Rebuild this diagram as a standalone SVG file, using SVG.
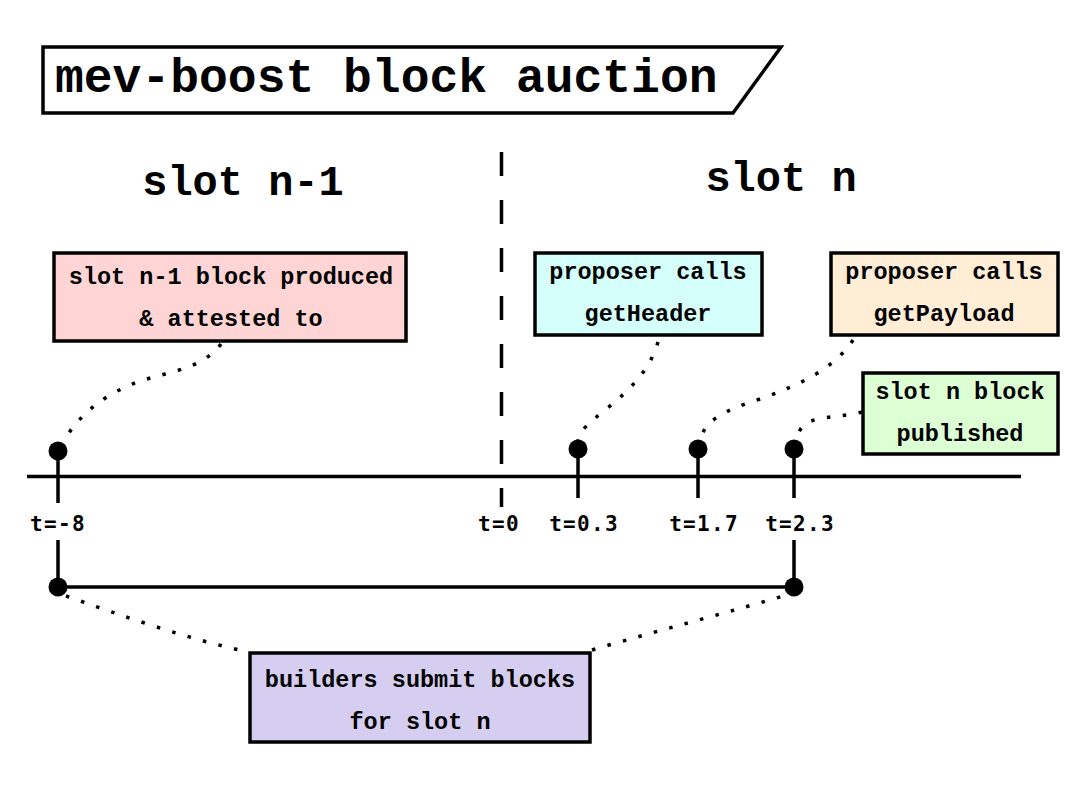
<svg xmlns="http://www.w3.org/2000/svg" width="1082" height="786" viewBox="0 0 1082 786">
<style>
.box{stroke:#000;stroke-width:3.5}
.bt{font-family:"Liberation Mono","Courier New",monospace;font-weight:bold;font-size:23.5px;text-anchor:middle;fill:#000}
.hd{font-family:"Liberation Mono","Courier New",monospace;font-weight:bold;font-size:42px;text-anchor:middle;fill:#000}
.tl{font-family:"DejaVu Sans Mono",monospace;font-weight:bold;font-size:21px;letter-spacing:1.3px;text-anchor:middle;fill:#000}
.ln{stroke:#000;stroke-width:3.5;fill:none}
.dot{stroke:#000;stroke-width:3.5;stroke-dasharray:3.5 12.5;fill:none}
</style>
<rect width="1082" height="786" fill="#fff"/>
<g id="title">
<polygon points="43,47 781,47 733,113 43,113" fill="#fff" stroke="#000" stroke-width="3.5"/>
<text x="55" y="92" font-family="Liberation Mono,'Courier New',monospace" font-weight="bold" font-size="48" fill="#000">mev-boost block auction</text>
</g>
<g id="headers">
<text class="hd" x="243" y="195">slot n-1</text>
<text class="hd" x="781" y="191">slot n</text>
</g>
<g id="connectors">
<line x1="501.5" y1="152" x2="501.5" y2="507" stroke="#000" stroke-width="3.5" stroke-dasharray="24 24"/>
<line class="ln" x1="27" y1="476.5" x2="1021" y2="476.5"/>
<line class="ln" x1="58" y1="450" x2="58" y2="503"/>
<line class="ln" x1="58" y1="540" x2="58" y2="587"/>
<line class="ln" x1="578" y1="449" x2="578" y2="498"/>
<line class="ln" x1="698" y1="449" x2="698" y2="498"/>
<line class="ln" x1="794" y1="449" x2="794" y2="498"/>
<line class="ln" x1="794" y1="540" x2="794" y2="587"/>
<line class="ln" x1="58" y1="587" x2="794" y2="587"/>
<circle cx="58" cy="451" r="9.5"/>
<circle cx="578" cy="449" r="9.5"/>
<circle cx="698" cy="449" r="9.5"/>
<circle cx="794" cy="449" r="9.5"/>
<circle cx="58" cy="587" r="9.5"/>
<circle cx="794" cy="587" r="9.5"/>
<path class="dot" d="M221,344 C200,372 160,372 130,385 C100,398 80,415 64,440"/>
<path class="dot" d="M658,342 C650,370 630,390 605,410 C590,422 580,430 578,440"/>
<path class="dot" d="M853,340 C835,368 800,385 760,399 C725,410 705,420 700,440"/>
<path class="dot" d="M862,412 C830,420 800,413 797,440"/>
<path class="dot" d="M66,596 C120,615 190,640 249,652"/>
<path class="dot" d="M592,650 C660,630 730,612 790,594"/>
</g>
<g id="labels">
<text class="tl" x="58" y="531">t=-8</text>
<text class="tl" x="499" y="531">t=0</text>
<text class="tl" x="584" y="531">t=0.3</text>
<text class="tl" x="704" y="531">t=1.7</text>
<text class="tl" x="800" y="531">t=2.3</text>
</g>
<g id="node-prev">
<rect class="box" x="54" y="253" width="352" height="88" fill="#ffd4d4"/>
<text class="bt" x="231" y="284">slot n-1 block produced</text>
<text class="bt" x="231" y="326">&amp; attested to</text>
</g>
<g id="node-getheader">
<rect class="box" x="535" y="253" width="227" height="82" fill="#d4fffa"/>
<text class="bt" x="648" y="279">proposer calls</text>
<text class="bt" x="648" y="321">getHeader</text>
</g>
<g id="node-getpayload">
<rect class="box" x="831" y="253" width="227" height="82" fill="#ffedd6"/>
<text class="bt" x="944" y="279">proposer calls</text>
<text class="bt" x="944" y="321">getPayload</text>
</g>
<g id="node-published">
<rect class="box" x="863" y="373" width="195" height="81" fill="#ddffd4"/>
<text class="bt" x="960" y="399">slot n block</text>
<text class="bt" x="960" y="441">published</text>
</g>
<g id="node-builders">
<rect class="box" x="250" y="653" width="340" height="89" fill="#d6cef0"/>
<text class="bt" x="420" y="687">builders submit blocks</text>
<text class="bt" x="420" y="729">for slot n</text>
</g>
</svg>
